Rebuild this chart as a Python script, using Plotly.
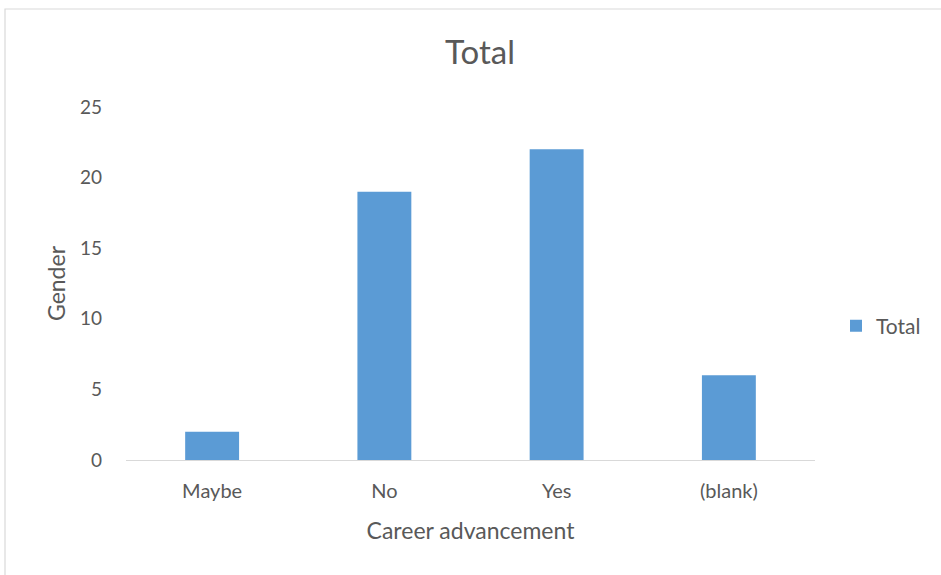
import plotly.graph_objects as go

categories = ["Maybe", "No", "Yes", "(blank)"]
values = [2, 19, 22, 6]
series_name = "Total"

W, H = 941, 575
L, R, T, B = 126, 126, 107, 115
pw, ph = W - L - R, H - T - B

def px_x(x):
    return (x - L) / pw

def px_y(y):
    return (H - B - y) / ph

font_family = "Lato, 'Open Sans', sans-serif"
grey = "#595959"

fig = go.Figure()
fig.add_trace(go.Bar(
    x=categories, y=values, name=series_name,
    marker=dict(color="#5B9BD5", line=dict(width=0)),
    showlegend=True,
))

fig.update_layout(
    width=W, height=H,
    margin=dict(l=L, r=R, t=T, b=B, autoexpand=False),
    paper_bgcolor="white", plot_bgcolor="white",
    font=dict(family=font_family, color=grey, size=19),
    bargap=0.687,
    title=dict(text="Total", x=480 / W, xanchor="center", y=1 - 52 / H, yanchor="middle",
               font=dict(size=33, color=grey, family=font_family)),
    xaxis=dict(
        showline=True, linecolor="#D9D9D9", linewidth=1,
        ticks="", showgrid=False,
        tickfont=dict(size=20, color=grey),
        ticklabelstandoff=13,
        title=dict(text="Career advancement", font=dict(size=23, color=grey), standoff=21),
    ),
    yaxis=dict(
        range=[0, 25], dtick=5, showgrid=False, zeroline=False, showline=False,
        ticks="", tickfont=dict(size=19, color=grey),
        ticklabelstandoff=23,
        title=dict(text="Gender", font=dict(size=23, color=grey), standoff=7),
    ),
    legend=dict(x=px_x(836), xanchor="left", y=px_y(326), yanchor="middle",
                font=dict(size=21, color=grey), itemwidth=30,
                bgcolor="rgba(0,0,0,0)"),
    shapes=[dict(type="rect", xref="paper", yref="paper",
                 x0=px_x(5), x1=px_x(950), y0=px_y(590), y1=px_y(9),
                 line=dict(color="#D9D9D9", width=1.2), fillcolor="rgba(0,0,0,0)", layer="below")],
)

fig.write_html("out.html")
